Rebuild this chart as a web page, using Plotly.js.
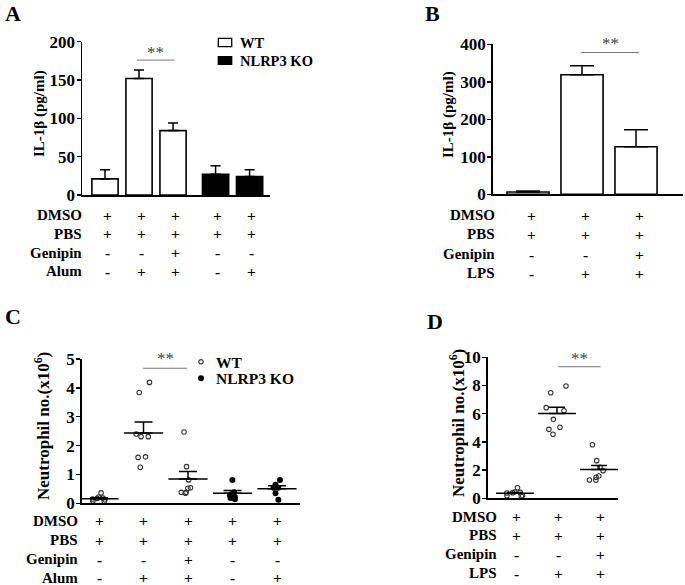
<!DOCTYPE html>
<html><head><meta charset="utf-8">
<script src="https://cdn.plot.ly/plotly-3.0.1.min.js"></script>
<style>html,body{margin:0;padding:0;background:#fff}#chart{width:685px;height:585px}</style>
</head><body><div id="chart"></div>
<script>
// ================= DATA =================
// Panel A : IL-1beta (pg/ml), alum
const genotypeA = ['WT', 'WT', 'WT', 'NLRP3 KO', 'NLRP3 KO'];
const il1bA = [21, 152, 84, 27, 24];
const il1bSemA = [12, 11, 10, 11, 9];
const rowLabelsA = ['DMSO', 'PBS', 'Genipin', 'Alum'];
const signsA = [
  ['+', '+', '+', '+', '+'],
  ['+', '+', '+', '+', '+'],
  ['-', '-', '+', '-', '-'],
  ['-', '+', '+', '-', '+']
];

// Panel B : IL-1beta (pg/ml), LPS
const il1bB = [6, 319, 127];
const il1bSemB = [3, 24, 45];
const rowLabelsB = ['DMSO', 'PBS', 'Genipin', 'LPS'];
const signsB = [
  ['+', '+', '+'],
  ['+', '+', '+'],
  ['-', '-', '+'],
  ['-', '+', '+']
];

// Panel C : neutrophil number (x10^6), alum
const neutC_WT = [
  [0.36, 0.22, 0.18, 0.17, 0.15, 0.12, 0.08, 0.06],
  [4.19, 3.84, 2.40, 2.31, 2.31, 1.61, 1.59, 1.25],
  [2.47, 1.27, 0.81, 0.54, 0.52, 0.38, 0.38, 0.35]
];
const neutC_KO = [
  [0.81, 0.38, 0.32, 0.28, 0.22, 0.18, 0.14],
  [0.81, 0.64, 0.54, 0.54, 0.35, 0.12]
];
const meanC = [0.16, 2.44, 0.84, 0.35, 0.50];
const semC = [0.03, 0.38, 0.26, 0.09, 0.11];
const rowLabelsC = ['DMSO', 'PBS', 'Genipin', 'Alum'];
const signsC = signsA;

// Panel D : neutrophil number (x10^6), LPS
const neutD = [
  [0.75, 0.45, 0.42, 0.40, 0.38, 0.20, 0.18, 0.15],
  [7.96, 7.49, 6.43, 6.21, 5.60, 5.04, 4.89, 4.54],
  [3.80, 2.67, 2.20, 1.96, 1.58, 1.49, 1.30, 1.30]
];
const meanD = [0.35, 6.02, 2.04];
const semD = [0.07, 0.43, 0.28];
const rowLabelsD = ['DMSO', 'PBS', 'Genipin', 'LPS'];
const signsD = signsB;

const titleIL = 'IL-1β (pg/ml)';
const titleNeut = 'Neutrophil no.(x10<sup>6</sup>)';
const sigText = '**';

// ================= LAYOUT HELPERS =================
const W = 685, H = 585;
const px = v => v / W;
const py = v => 1 - v / H;
const FONT = 'Liberation Serif, Times New Roman, serif';
const posA = [0, 1, 2, 3.25, 4.25];
const posB = [0, 1, 2];
const posC = [0, 1, 2, 3, 4];
const posD = [0, 1, 2];

const txt = (size, extra) => Object.assign({family: FONT, size: size, color: '#000', weight: 'bold'}, extra || {});

function xAx(d0, d1, r, anchor) {
  return {domain: [px(d0), px(d1)], range: r, anchor: anchor, showline: true, linecolor: '#000',
    linewidth: 1.5, ticks: '', showticklabels: false, showgrid: false, zeroline: false, fixedrange: true};
}
function yAx(top, bottom, r, dtick, anchor) {
  return {domain: [py(bottom), py(top)], range: r, dtick: dtick, tick0: 0, anchor: anchor,
    showline: true, linecolor: '#000', linewidth: 1.5, ticks: 'outside', ticklen: 4, tickwidth: 1.5,
    tickcolor: '#000', showgrid: false, zeroline: false, fixedrange: true, tickfont: txt(17),
    ticklabelstandoff: -2};
}

const traces = [];
// Panel A bars
traces.push({
  type: 'bar', x: posA, y: il1bA, width: 0.77, xaxis: 'x', yaxis: 'y',
  marker: {color: genotypeA.map(g => g === 'WT' ? '#fff' : '#000'), line: {color: '#000', width: 1.6}},
  error_y: {type: 'data', symmetric: false, array: il1bSemA, arrayminus: il1bSemA.map(() => 0),
    color: '#000', thickness: 1.5, width: 5},
  hoverinfo: 'skip', showlegend: false
});
// Panel B bars
traces.push({
  type: 'bar', x: posB, y: il1bB, width: 0.78, xaxis: 'x2', yaxis: 'y2',
  marker: {color: '#fff', line: {color: '#000', width: 1.6}},
  error_y: {type: 'data', symmetric: false, array: il1bSemB, arrayminus: il1bSemB.map(() => 0),
    color: '#000', thickness: 1.5, width: 12},
  hoverinfo: 'skip', showlegend: false
});

function strip(groups, pos, xa, ya, marker, jitter, width) {
  const x = [], y = [];
  groups.forEach((g, i) => g.forEach(v => { x.push(pos[i]); y.push(v); }));
  return {type: 'box', x: x, y: y, xaxis: xa, yaxis: ya, boxpoints: 'all', jitter: jitter, pointpos: 0,
    width: width, fillcolor: 'rgba(0,0,0,0)', line: {color: 'rgba(0,0,0,0)', width: 0}, whiskerwidth: 0,
    marker: marker, hoverinfo: 'skip', showlegend: false};
}
function meanSem(pos, mean, sem, xa, ya, size, cap) {
  return {type: 'scatter', mode: 'markers', x: pos, y: mean, xaxis: xa, yaxis: ya,
    marker: {symbol: 'line-ew', size: size, color: '#000', line: {color: '#000', width: 1.5}},
    error_y: {type: 'data', symmetric: false, array: sem, arrayminus: sem.map(() => 0),
      color: '#000', thickness: 1.5, width: cap},
    hoverinfo: 'skip', showlegend: false};
}
const openMk = {symbol: 'circle-open', size: 4.5, color: '#333', line: {width: 1.1, color: '#333'}};
const fillMk = {symbol: 'circle', size: 6, color: '#000', line: {width: 0}};

traces.push(strip(neutC_WT, posC.slice(0, 3), 'x3', 'y3', openMk, 0.65, 0.7));
traces.push(strip(neutC_KO, posC.slice(3), 'x3', 'y3', fillMk, 0.3, 0.7));
traces.push(meanSem(posC, meanC, semC, 'x3', 'y3', 28, 9));
traces.push(strip(neutD, posD, 'x4', 'y4', openMk, 0.8, 0.75));
traces.push(meanSem(posD, meanD, semD, 'x4', 'y4', 27, 8));

const annotations = [];
const shapes = [];

function rows(labels, signs, pos, xref, labelRight, rowY, xshift) {
  labels.forEach((lab, r) => {
    annotations.push({text: lab, xref: 'paper', yref: 'paper', x: px(labelRight), y: py(rowY[r]),
      xanchor: 'right', yanchor: 'middle', showarrow: false, font: txt(15)});
    signs[r].forEach((s, i) => {
      annotations.push({text: s, xref: xref, yref: 'paper', x: pos[i], y: py(rowY[r]), xshift: xshift,
        xanchor: 'center', yanchor: 'middle', showarrow: false, font: txt(15.5)});
    });
  });
}
rows(rowLabelsA, signsA, posA, 'x', 84, [215, 233.5, 252.5, 271], 2);
rows(rowLabelsB, signsB, posB, 'x2', 497, [215, 234.3, 254, 273.3], 3.5);
rows(rowLabelsC, signsC, posC, 'x3', 80, [520.7, 540, 559.3, 577.7], 0);
rows(rowLabelsD, signsD, posD, 'x4', 499, [516.7, 535, 554.3, 573.3], 1.5);

// panel letters
[['A', 3, 13.5], ['B', 423, 13], ['C', 3, 316], ['D', 425, 321]].forEach(([t, x, y]) => {
  annotations.push({text: t, xref: 'paper', yref: 'paper', x: px(x), y: py(y), xanchor: 'left',
    yanchor: 'middle', showarrow: false, font: txt(22)});
});

// y axis titles (rotated)
[[titleIL, 40, 114, 15], [titleIL, 449, 115, 15], [titleNeut, 42, 426, 17], [titleNeut, 457, 423, 17]]
  .forEach(([t, x, y, s]) => {
    annotations.push({text: t, xref: 'paper', yref: 'paper', x: px(x), y: py(y), xanchor: 'center',
      yanchor: 'middle', textangle: -90, showarrow: false, font: txt(s)});
  });

// significance brackets
function sig(xref, yref, x0, x1, yv, starY) {
  shapes.push({type: 'line', xref: xref, yref: yref, x0: x0, x1: x1, y0: yv, y1: yv,
    line: {color: '#777', width: 1}});
  annotations.push({text: sigText, xref: xref, yref: 'paper', x: (x0 + x1) / 2, y: py(starY),
    xanchor: 'center', yanchor: 'middle', showarrow: false,
    font: {family: FONT, size: 17, color: '#444'}});
}
sig('x', 'y', 0.94, 2.04, 176, 52);
sig('x2', 'y2', 0.98, 2.06, 378, 44);
sig('x3', 'y3', 0.99, 1.98, 4.68, 358);
sig('x4', 'y4', 1.03, 2.04, 9.33, 358);

// legend A (bars)
shapes.push({type: 'rect', xref: 'paper', yref: 'paper', x0: px(218.3), x1: px(231.7), y0: py(46.7), y1: py(38.3),
  line: {color: '#000', width: 1.3}, fillcolor: '#fff'});
shapes.push({type: 'rect', xref: 'paper', yref: 'paper', x0: px(218.3), x1: px(231.7), y0: py(64.3), y1: py(56.7),
  line: {color: '#000', width: 1.3}, fillcolor: '#000'});
annotations.push({text: 'WT', xref: 'paper', yref: 'paper', x: px(238), y: py(42.7), xanchor: 'left',
  yanchor: 'middle', showarrow: false, font: txt(14.5)});
annotations.push({text: 'NLRP3 KO', xref: 'paper', yref: 'paper', x: px(238), y: py(60.7), xanchor: 'left',
  yanchor: 'middle', showarrow: false, font: txt(14.5)});

// legend C (points)
shapes.push({type: 'circle', xref: 'paper', yref: 'paper', x0: px(198.8), x1: px(203.2), y0: py(364), y1: py(359.6),
  line: {color: '#333', width: 1.1}, fillcolor: 'rgba(0,0,0,0)'});
shapes.push({type: 'circle', xref: 'paper', yref: 'paper', x0: px(198), x1: px(204), y0: py(381.3), y1: py(375.3),
  line: {color: '#000', width: 0}, fillcolor: '#000'});
annotations.push({text: 'WT', xref: 'paper', yref: 'paper', x: px(214), y: py(362), xanchor: 'left',
  yanchor: 'middle', showarrow: false, font: txt(15.5)});
annotations.push({text: 'NLRP3 KO', xref: 'paper', yref: 'paper', x: px(214), y: py(378.5), xanchor: 'left',
  yanchor: 'middle', showarrow: false, font: txt(15.5)});

const layout = {
  width: W, height: H, margin: {l: 0, r: 0, t: 0, b: 0, pad: 0},
  paper_bgcolor: '#fff', plot_bgcolor: 'rgba(0,0,0,0)', showlegend: false,
  font: {family: FONT, color: '#000'},
  xaxis: xAx(82, 270, [-0.676, 4.85], 'y'),
  yaxis: yAx(41.7, 195, [0, 200], 50, 'x'),
  xaxis2: xAx(492.7, 683, [-0.654, 2.87], 'y2'),
  yaxis2: yAx(44.3, 194.3, [0, 400], 100, 'x2'),
  xaxis3: xAx(81.7, 300, [-0.389, 4.517], 'y3'),
  yaxis3: yAx(359, 503.3, [0, 5], 1, 'x3'),
  xaxis4: xAx(487.7, 618, [-0.65, 2.452], 'y4'),
  yaxis4: yAx(357.3, 498.3, [0, 10], 2, 'x4'),
  annotations: annotations, shapes: shapes
};

Plotly.newPlot('chart', traces, layout, {displayModeBar: false, staticPlot: true});
</script>
</body></html>
